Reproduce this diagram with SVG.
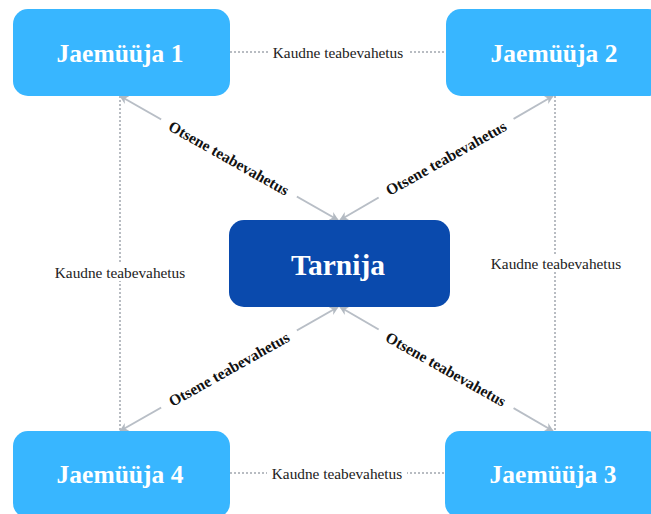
<svg xmlns="http://www.w3.org/2000/svg" width="651" height="514" viewBox="0 0 651 514">
<defs>
<marker id="ah" viewBox="0 0 10 10" refX="9" refY="5" markerWidth="9" markerHeight="9" orient="auto-start-reverse" markerUnits="userSpaceOnUse">
<path d="M0,0 L10,5 L0,10 L3,5 Z" fill="#b3bac2"/>
</marker>
</defs>
<style>
.box{fill:#38b6ff}
.main{fill:#0a4aad}
.nt{font-family:"Liberation Serif",serif;font-weight:bold;fill:#ffffff;text-anchor:middle;dominant-baseline:central}
.dot{stroke:#b8bcc2;stroke-width:2;stroke-dasharray:2 2;fill:none}
.arr{stroke:#b8bec6;stroke-width:2;fill:none}
.kl{font-family:"Liberation Serif",serif;font-size:15.3px;fill:#222;text-anchor:middle;dominant-baseline:central}
.ol{font-family:"Liberation Serif",serif;font-size:15.5px;font-weight:bold;fill:#111;text-anchor:middle;dominant-baseline:central}
</style>
<rect width="651" height="514" fill="#ffffff"/>
<g id="connectors">
<line class="dot" x1="230" y1="52" x2="446" y2="52"/>
<rect x="268" y="43" width="140" height="18" fill="#fff"/>
<text class="kl" x="338" y="52">Kaudne teabevahetus</text>
<line class="dot" x1="230" y1="473" x2="445" y2="473"/>
<rect x="267" y="464" width="140" height="18" fill="#fff"/>
<text class="kl" x="337" y="473">Kaudne teabevahetus</text>
<line class="dot" x1="120" y1="96" x2="120" y2="431"/>
<rect x="50" y="263" width="140" height="18" fill="#fff"/>
<text class="kl" x="120" y="272">Kaudne teabevahetus</text>
<line class="dot" x1="555" y1="96" x2="555" y2="431"/>
<rect x="486" y="254" width="140" height="18" fill="#fff"/>
<text class="kl" x="556" y="263">Kaudne teabevahetus</text>
<line class="arr" x1="338" y1="220" x2="120" y2="96" marker-start="url(#ah)" marker-end="url(#ah)"/>
<line class="arr" x1="340" y1="220" x2="553" y2="96" marker-start="url(#ah)" marker-end="url(#ah)"/>
<line class="arr" x1="338" y1="307" x2="120" y2="431" marker-start="url(#ah)" marker-end="url(#ah)"/>
<line class="arr" x1="340" y1="307" x2="553" y2="431" marker-start="url(#ah)" marker-end="url(#ah)"/>
<g transform="translate(229,158) rotate(29.4)"><rect x="-78" y="-9" width="156" height="18" fill="#fff"/><text class="ol" x="0" y="0">Otsene teabevahetus</text></g>
<g transform="translate(446,158) rotate(-29.4)"><rect x="-78" y="-9" width="156" height="18" fill="#fff"/><text class="ol" x="0" y="0">Otsene teabevahetus</text></g>
<g transform="translate(229,369) rotate(-29.4)"><rect x="-78" y="-9" width="156" height="18" fill="#fff"/><text class="ol" x="0" y="0">Otsene teabevahetus</text></g>
<g transform="translate(446,369) rotate(29.4)"><rect x="-78" y="-9" width="156" height="18" fill="#fff"/><text class="ol" x="0" y="0">Otsene teabevahetus</text></g>
</g>
<g id="jaemuuja1"><rect class="box" x="13" y="9" width="217" height="87" rx="15"/><text class="nt" x="120" y="53" font-size="25.5">Jaemüüja 1</text></g>
<g id="jaemuuja2"><rect class="box" x="446" y="9" width="217" height="87" rx="15"/><text class="nt" x="554" y="53" font-size="25.5">Jaemüüja 2</text></g>
<g id="jaemuuja4"><rect class="box" x="13" y="431" width="217" height="87" rx="15"/><text class="nt" x="120" y="474" font-size="25.5">Jaemüüja 4</text></g>
<g id="jaemuuja3"><rect class="box" x="445" y="431" width="217" height="87" rx="15"/><text class="nt" x="553" y="474" font-size="25.5">Jaemüüja 3</text></g>
<g id="tarnija"><rect class="main" x="229" y="220" width="221" height="87" rx="15"/><text class="nt" x="338" y="265" font-size="29.5">Tarnija</text></g>
</svg>
